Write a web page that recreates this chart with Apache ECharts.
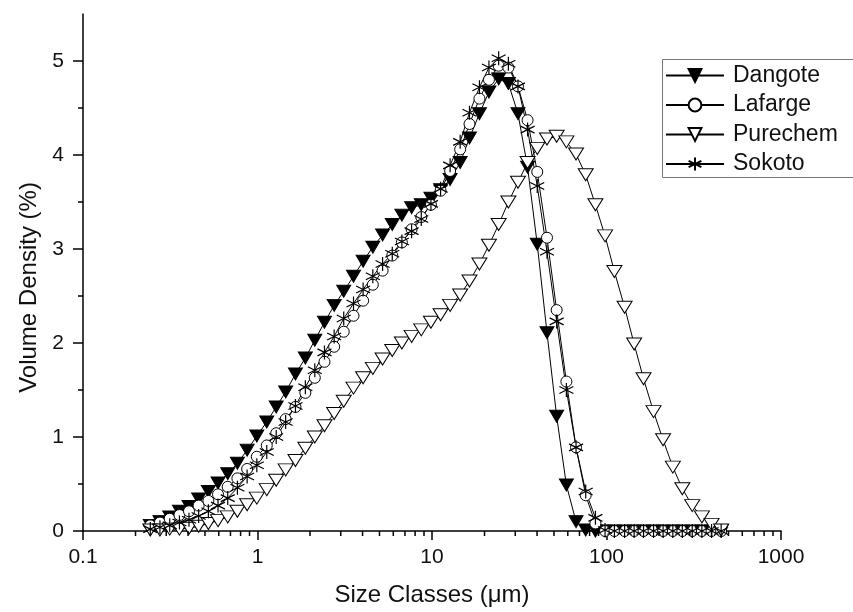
<!DOCTYPE html>
<html>
<head>
<meta charset="utf-8">
<script src="https://cdn.jsdelivr.net/npm/echarts@6/dist/echarts.min.js"></script>
<style>
html,body{margin:0;padding:0;background:#fff;}
#chart{width:853px;height:612px;}
</style>
</head>
<body>
<div id="chart"></div>
<script>
// Size classes (µm)
const sizeClasses = [0.243,0.276,0.314,0.357,0.405,0.460,0.523,0.594,0.675,0.767,0.872,0.991,1.13,1.28,1.45,1.65,1.88,2.13,2.42,2.75,3.12,3.55,4.03,4.58,5.21,5.92,6.72,7.64,8.68,9.86,11.2,12.7,14.5,16.4,18.7,21.2,24.1,27.4,31.1,35.3,40.1,45.6,51.8,58.9,66.9,76.0,86.4,98.1,111,127,144,163,186,211,240,272,310,352,400,454];

const dangote = [0.06,0.10,0.15,0.21,0.26,0.34,0.42,0.51,0.61,0.72,0.86,1.01,1.16,1.32,1.48,1.67,1.84,2.03,2.22,2.40,2.55,2.71,2.87,3.02,3.15,3.26,3.36,3.44,3.47,3.54,3.63,3.74,3.92,4.18,4.44,4.67,4.81,4.76,4.44,3.87,3.05,2.11,1.22,0.49,0.10,0.01,0,0,0,0,0,0,0,0,0,0,0,0,0,0];

const lafarge = [0.06,0.09,0.13,0.17,0.21,0.27,0.32,0.39,0.47,0.56,0.66,0.79,0.91,1.04,1.19,1.32,1.47,1.63,1.80,1.96,2.12,2.29,2.45,2.62,2.77,2.93,3.07,3.21,3.34,3.47,3.62,3.83,4.06,4.33,4.60,4.80,4.95,4.93,4.73,4.37,3.82,3.12,2.35,1.59,0.89,0.38,0.08,0,0,0,0,0,0,0,0,0,0,0,0,0];

const purechem = [0.01,0.01,0.02,0.02,0.03,0.05,0.08,0.11,0.15,0.21,0.28,0.35,0.44,0.54,0.65,0.75,0.88,1.00,1.12,1.25,1.38,1.52,1.63,1.73,1.83,1.92,2.00,2.07,2.14,2.22,2.30,2.40,2.51,2.66,2.84,3.04,3.26,3.50,3.71,3.92,4.07,4.17,4.20,4.14,4.01,3.79,3.47,3.14,2.76,2.38,1.99,1.62,1.27,0.97,0.68,0.45,0.27,0.15,0.07,0.01];

const sokoto = [0.02,0.04,0.06,0.09,0.12,0.16,0.21,0.27,0.35,0.46,0.58,0.70,0.84,1.00,1.16,1.33,1.53,1.71,1.90,2.07,2.26,2.42,2.57,2.71,2.84,2.95,3.08,3.19,3.32,3.48,3.64,3.89,4.14,4.45,4.72,4.93,5.03,4.97,4.73,4.27,3.67,2.97,2.23,1.50,0.89,0.42,0.14,0.01,0,0,0,0,0,0,0,0,0,0,0,0];

const seriesNames = ['Dangote','Lafarge','Purechem','Sokoto'];
const yTickValues = [0,1,2,3,4,5];
const yMinorTickValues = [0.5,1.5,2.5,3.5,4.5];
const xMinorTickValues = [0.2,0.3,0.4,0.5,0.6,0.7,0.8,0.9,2,3,4,5,6,7,8,9,20,30,40,50,60,70,80,90,200,300,400,500,600,700,800,900];

const FONT = 'Liberation Sans, Arial, sans-serif';
const asterisk = 'path://M50,0 L50,100 M6.7,25 L93.3,75 M6.7,75 L93.3,25';

function pairs(ys){ return sizeClasses.map((x,i)=>[x, ys[i]]); }

function lineSeries(name, ys, symbol, size, itemStyle){
  return {
    name: name, type: 'line', data: pairs(ys),
    symbol: symbol, symbolSize: size,
    symbolRotate: symbol === 'triangle' ? 180 : 0,
    showAllSymbol: true,
    lineStyle: {color:'#000', width:1},
    itemStyle: itemStyle,
    emphasis: {disabled:true},
    z: 3
  };
}

const chart = echarts.init(document.getElementById('chart'), null, {renderer:'canvas'});
chart.setOption({
  animation: false,
  backgroundColor: '#fff',
  grid: {left: 83, right: 72, top: 14, bottom: 77, containLabel: false},
  graphic: [{
    type: 'rect', z: 90, silent: true,
    shape: {x: 662.5, y: 59.5, width: 260, height: 118},
    style: {fill: '#fff', stroke: '#777', lineWidth: 1}
  }],
  legend: {
    data: seriesNames,
    orient: 'vertical',
    left: 662, top: 59, z: 100,
    padding: [5, 3, 3, 3],
    itemWidth: 58, itemHeight: 16, itemGap: 6.5,
    textStyle: {fontFamily: FONT, fontSize: 23, lineHeight: 22, color:'#111', padding:[0,0,0,4]},
    selectedMode: false
  },
  xAxis: {
    type: 'log', logBase: 10, min: 0.1, max: 1000,
    name: 'Size Classes (\u03bcm)', nameLocation: 'middle', nameGap: 52,
    nameTextStyle: {fontFamily: FONT, fontSize: 24, color:'#111'},
    axisLine: {show: true, onZero: false, lineStyle: {color:'#000', width:1.5}},
    axisTick: {show: true, inside: false, length: 9, lineStyle: {color:'#000', width:1.5}},
    minorTick: {show: false},
    splitLine: {show: false},
    axisLabel: {
      fontFamily: FONT, fontSize: 21, color:'#111', margin: 16,
      formatter: function(v){
        const p = Math.round(Math.log10(v));
        return p < 0 ? Math.pow(10,p).toFixed(-p) : String(Math.round(Math.pow(10,p)));
      }
    }
  },
  yAxis: {
    type: 'value', min: 0, max: 5.5, interval: 1,
    name: 'Volume Density (%)', nameLocation: 'middle', nameGap: 42,
    nameTextStyle: {fontFamily: FONT, fontSize: 24, color:'#111', padding:[0,30,0,0]},
    axisLine: {show: true, lineStyle: {color:'#000', width:1.5}},
    axisTick: {show: true, inside: false, length: 10, customValues: yTickValues, lineStyle: {color:'#000', width:1.5}},
    splitLine: {show: false},
    axisLabel: {fontFamily: FONT, fontSize: 21, color:'#111', margin: 19, customValues: yTickValues}
  },
  series: [
    lineSeries('Dangote', dangote, 'triangle', [14,12], {color:'#000', borderColor:'#000', borderWidth:1}),
    lineSeries('Lafarge', lafarge, 'circle', 11, {color:'#fff', borderColor:'#000', borderWidth:1}),
    lineSeries('Purechem', purechem, 'triangle', [15,12], {color:'#fff', borderColor:'#000', borderWidth:1}),
    lineSeries('Sokoto', sokoto, asterisk, 14, {color:'rgba(0,0,0,0)', borderColor:'#000', borderWidth:1.2}),
    {
      name: 'xminor', type: 'custom', silent: true, clip: false, z: 5,
      data: xMinorTickValues.map(v => [v, 0]),
      encode: {x: 0, y: 1},
      renderItem: function(params, api){
        const p = api.coord([api.value(0), 0]);
        return {type:'line', shape:{x1:p[0], y1:p[1], x2:p[0], y2:p[1]+5}, style:{stroke:'#000', lineWidth:1.5}};
      }
    },
    {
      name: 'yminor', type: 'custom', silent: true, clip: false, z: 5,
      data: yMinorTickValues.map(v => [0.1, v]),
      encode: {x: 0, y: 1},
      renderItem: function(params, api){
        const p = api.coord([0.1, api.value(1)]);
        return {type:'line', shape:{x1:p[0]-5, y1:p[1], x2:p[0], y2:p[1]}, style:{stroke:'#000', lineWidth:1.5}};
      }
    }
  ]
});
</script>
</body>
</html>
